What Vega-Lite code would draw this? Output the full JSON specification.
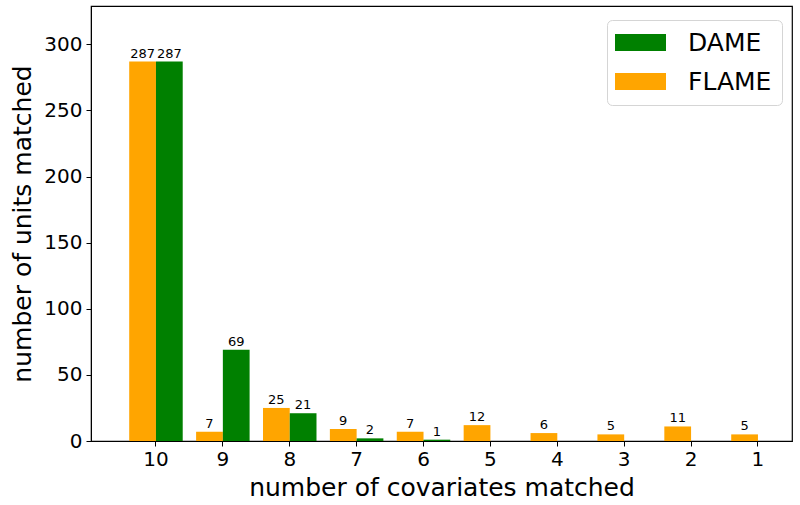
{
  "$schema": "https://vega.github.io/schema/vega-lite/v6.json",
  "autosize": "none",
  "width": 701,
  "height": 435,
  "padding": {"left": 91, "top": 6, "right": 8, "bottom": 64},
  "background": "white",
  "config": {
    "font": "DejaVu Sans",
    "view": {"stroke": "black", "strokeWidth": 1.2},
    "axis": {
      "domainColor": "black", "tickColor": "black", "labelColor": "black", "titleColor": "black",
      "grid": false, "tickSize": 5, "labelFontSize": 20, "titleFontSize": 25, "titleFontWeight": "normal",
      "labelFont": "DejaVu Sans", "titleFont": "DejaVu Sans"
    }
  },
  "data": {
    "values": [
      {"covariates": 10, "method": "FLAME", "units": 287},
      {"covariates": 10, "method": "DAME", "units": 287},
      {"covariates": 9, "method": "FLAME", "units": 7},
      {"covariates": 9, "method": "DAME", "units": 69},
      {"covariates": 8, "method": "FLAME", "units": 25},
      {"covariates": 8, "method": "DAME", "units": 21},
      {"covariates": 7, "method": "FLAME", "units": 9},
      {"covariates": 7, "method": "DAME", "units": 2},
      {"covariates": 6, "method": "FLAME", "units": 7},
      {"covariates": 6, "method": "DAME", "units": 1},
      {"covariates": 5, "method": "FLAME", "units": 12},
      {"covariates": 5, "method": "DAME", "units": 0},
      {"covariates": 4, "method": "FLAME", "units": 6},
      {"covariates": 4, "method": "DAME", "units": 0},
      {"covariates": 3, "method": "FLAME", "units": 5},
      {"covariates": 3, "method": "DAME", "units": 0},
      {"covariates": 2, "method": "FLAME", "units": 11},
      {"covariates": 2, "method": "DAME", "units": 0},
      {"covariates": 1, "method": "FLAME", "units": 5},
      {"covariates": 1, "method": "DAME", "units": 0}
    ]
  },
  "encoding": {
    "x": {
      "field": "covariates", "type": "ordinal", "sort": "descending",
      "scale": {"paddingInner": 0.2, "paddingOuter": 0.34, "align": 0.84},
      "axis": {"labelAngle": 0, "title": "number of covariates matched", "labelPadding": 3, "titlePadding": 6, "domain": true}
    },
    "xOffset": {"field": "method", "type": "nominal", "scale": {"domain": ["FLAME", "DAME"], "paddingInner": 0, "paddingOuter": 0}},
    "y": {
      "field": "units", "type": "quantitative",
      "scale": {"domain": [0, 329], "nice": false, "zero": true},
      "axis": {"values": [0, 50, 100, 150, 200, 250, 300], "title": "number of units matched", "titlePadding": 8, "labelPadding": 4, "labelFlush": false}
    }
  },
  "layer": [
    {
      "mark": {"type": "bar"},
      "encoding": {
        "color": {
          "field": "method", "type": "nominal",
          "scale": {"domain": ["DAME", "FLAME"], "range": ["#008000", "#FFA500"]},
          "legend": {
            "title": null, "orient": "none", "legendX": 516, "legendY": 14,
            "symbolType": "M-3,-1H3V1H-3Z", "symbolSize": 289, "symbolStrokeWidth": 0, "symbolOffset": 11,
            "labelFontSize": 25, "labelFont": "DejaVu Sans", "labelColor": "black", "labelOffset": 35,
            "padding": 10, "rowPadding": 13, "cornerRadius": 5, "strokeColor": "#d5d5d5", "fillColor": "white"
          }
        }
      }
    },
    {
      "transform": [{"filter": "datum.units > 0"}],
      "mark": {"type": "text", "baseline": "bottom", "dy": -1, "fontSize": 13, "font": "DejaVu Sans", "color": "black"},
      "encoding": {"text": {"field": "units", "type": "quantitative"}}
    }
  ]
}
